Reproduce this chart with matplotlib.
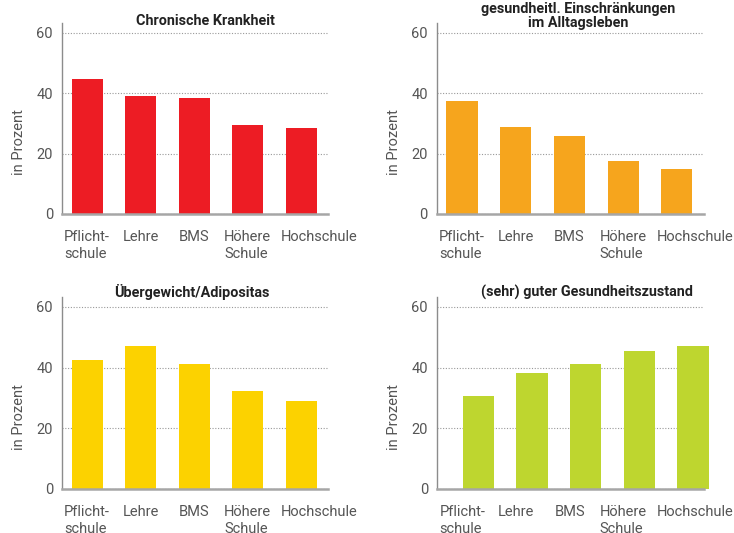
import numpy as np
import matplotlib.pyplot as plt

plt.rcParams['font.family'] = ['Roboto', 'DejaVu Sans']

# Bildungsabschluss
bildung = ['Pflicht-\nschule', 'Lehre', 'BMS', 'Höhere\nSchule', 'Hochschule']

# Anteile in Prozent
chronisch = [44.8, 39.0, 38.4, 29.5, 28.5]
einschraenkung = [37.5, 28.8, 25.9, 17.6, 14.9]
uebergewicht = [42.6, 47.1, 41.2, 32.3, 29.0]
gesund = [30.7, 38.2, 41.2, 45.5, 47.1]

titel = ['Chronische Krankheit',
         'gesundheitl. Einschränkungen\nim Alltagsleben',
         'Übergewicht/Adipositas',
         '(sehr) guter Gesundheitszustand']
farben = ['#ed1c24', '#f6a51d', '#fcd200', '#bed62f']

fig = plt.figure(figsize=(7.34, 5.33), dpi=100)

rects = [[0.0845, 0.5985, 0.3624, 0.359],
         [0.595, 0.5985, 0.3638, 0.359],
         [0.0845, 0.0826, 0.3624, 0.361],
         [0.5954, 0.0826, 0.3634, 0.361]]
# Titel: x-Mitte und Grundlinie der letzten Zeile (Achsenkoordinaten)
titel_pos = [(0.538, 0.988), (0.529, 0.976), (0.488, 0.997), (0.562, 0.997)]
versatz = [0, 0, 0, 0.3]

x = np.arange(len(bildung))
label_x = x + np.array([0, 0, 0, 0, 0.33])

for werte, t, farbe, rect, tp, dx in zip(
        [chronisch, einschraenkung, uebergewicht, gesund],
        titel, farben, rects, titel_pos, versatz):
    ax = fig.add_axes(rect)
    ax.bar(x + dx, werte, width=0.58, color=farbe, zorder=2, clip_on=False)
    ax.set_xlim(-0.47, 4.5)
    ax.set_ylim(0, 63.4)
    ax.set_yticks([0, 20, 40, 60])
    ax.set_xticks(label_x)
    ax.set_xticklabels(bildung, linespacing=1.3, multialignment='left')
    ax.tick_params(axis='x', length=0, pad=11.5, labelsize=10.5, labelcolor='#555555')
    ax.tick_params(axis='y', length=0, pad=6.5, labelsize=10.5, labelcolor='#555555')
    ax.grid(axis='y', linestyle=(0, (1, 1.5)), color='#999999', lw=0.8)
    ax.set_axisbelow(True)
    for s in ['top', 'right']:
        ax.spines[s].set_visible(False)
    ax.spines['left'].set_color('#8c8c8c')
    ax.spines['left'].set_linewidth(1)
    ax.spines['bottom'].set_color('#a6a6a6')
    ax.spines['bottom'].set_linewidth(1.8)
    ax.set_ylabel('in Prozent', fontsize=10.5, color='#555555', va='center')
    ax.yaxis.set_label_coords(-0.16, 0.375)
    ax.text(tp[0], tp[1], t, transform=ax.transAxes, ha='center', va='baseline',
            fontsize=10.4, fontweight='bold', color='#222222', linespacing=1.05)

fig.savefig('out.png', dpi=100)
